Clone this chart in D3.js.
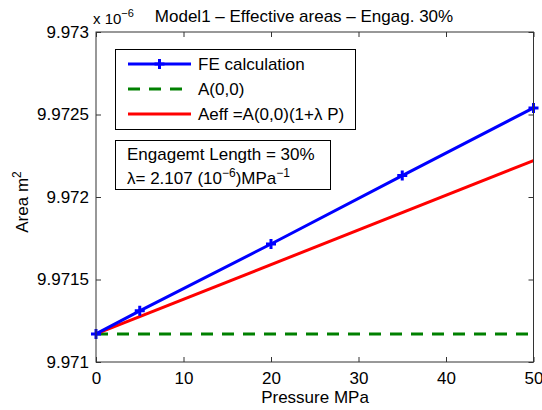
<!DOCTYPE html>
<html>
<head>
<meta charset="utf-8">
<script src="https://cdn.jsdelivr.net/npm/d3@7"></script>
<style>
	body { margin: 0; background: #fff; }
	text { font-family: "Liberation Sans", Arial, sans-serif; fill: #000; }
</style>
</head>
<body>
<svg id="chart"></svg>
<script>
// pressure (MPa) and areas (x 10^-6 m^2)
var pressure = [0, 5, 20, 35, 50];
var feArea = [9.97117, 9.97131, 9.971715, 9.97213, 9.97254];
var baseArea = 9.97117;
var lambda = 2.107e-6;
var xTicks = [0, 10, 20, 30, 40, 50];
var yTicks = [9.971, 9.9715, 9.972, 9.9725, 9.973];
var yTickLabels = ["9.971", "9.9715", "9.972", "9.9725", "9.973"];

var pageWidth = 542;
var pageHeight = 410;
// note: "top" is reserved on window, so use prefixed names
var axLeft = 96, axRight = 533.5, axTop = 32, axBottom = 362;
var fontSize = 17;

var svg = d3.select("#chart")
	.attr("width", pageWidth)
	.attr("height", pageHeight);

var xScale = d3.scaleLinear().domain([0, 50]).range([axLeft, axRight]);
var yScale = d3.scaleLinear().domain([9.971, 9.973]).range([axBottom, axTop]);

var plot = svg.append("g");

// dashed A(0,0)
plot.append("line")
	.attr("x1", xScale(0)).attr("x2", xScale(50))
	.attr("y1", yScale(baseArea)).attr("y2", yScale(baseArea))
	.attr("stroke", "#008000")
	.attr("stroke-width", 3)
	.attr("stroke-dasharray", "12,9");

// Aeff line
var aeff = [0, 50].map(function(p){ return [p, baseArea * (1 + lambda * p)] });
plot.append("path")
	.datum(aeff)
	.attr("d", d3.line().x(function(d){ return xScale(d[0]) }).y(function(d){ return yScale(d[1]) }))
	.attr("fill", "none")
	.attr("stroke", "#ff0000")
	.attr("stroke-width", 3);

// FE calculation
var feData = pressure.map(function(p, i){ return [p, feArea[i]] });
plot.append("path")
	.datum(feData)
	.attr("d", d3.line().x(function(d){ return xScale(d[0]) }).y(function(d){ return yScale(d[1]) }))
	.attr("fill", "none")
	.attr("stroke", "#0000ff")
	.attr("stroke-width", 3);

plot.selectAll(".plus")
	.data(feData)
	.enter().append("path")
	.attr("class", "plus")
	.attr("d", function(d){
		var x = xScale(d[0]), y = yScale(d[1]);
		return "M" + (x - 5) + "," + y + "H" + (x + 5) + "M" + x + "," + (y - 5) + "V" + (y + 5);
	})
	.attr("stroke", "#0000ff")
	.attr("stroke-width", 3);

// axes box
svg.append("rect")
	.attr("x", axLeft).attr("y", axTop)
	.attr("width", axRight - axLeft).attr("height", axBottom - axTop)
	.attr("fill", "none")
	.attr("stroke", "#333")
	.attr("stroke-width", 1);

var tickLen = 5;
svg.append("g").attr("transform", "translate(0," + axBottom + ")")
	.call(d3.axisBottom(xScale).tickValues(xTicks).tickSizeInner(-tickLen).tickSizeOuter(0).tickPadding(10));
svg.append("g").attr("transform", "translate(0," + axTop + ")")
	.call(d3.axisTop(xScale).tickValues(xTicks).tickSizeInner(-tickLen).tickSizeOuter(0).tickFormat(""));
svg.append("g").attr("transform", "translate(" + axLeft + ",0)")
	.call(d3.axisLeft(yScale).tickValues(yTicks).tickSizeInner(-tickLen).tickSizeOuter(0).tickPadding(7)
		.tickFormat(function(d, i){ return yTickLabels[i] }));
svg.append("g").attr("transform", "translate(" + axRight + ",0)")
	.call(d3.axisRight(yScale).tickValues(yTicks).tickSizeInner(-tickLen).tickSizeOuter(0).tickFormat(""));

svg.selectAll(".domain").remove();
svg.selectAll(".tick line").attr("stroke", "#333");
svg.selectAll(".tick text")
	.style("font-family", "'Liberation Sans', Arial, sans-serif")
	.style("font-size", fontSize + "px")
	.attr("fill", "#000");

// title and labels
svg.append("text")
	.attr("x", 304).attr("y", 22)
	.attr("text-anchor", "middle")
	.style("font-size", fontSize + "px")
	.text("Model1 \u2013 Effective areas \u2013 Engag. 30%");

var expo = svg.append("text")
	.attr("x", 93).attr("y", 24)
	.style("font-size", "15px");
expo.append("tspan").text("x 10");
expo.append("tspan").attr("dy", -7).style("font-size", "11px").text("\u22126");

svg.append("text")
	.attr("x", 315).attr("y", 403)
	.attr("text-anchor", "middle")
	.style("font-size", fontSize + "px")
	.text("Pressure MPa");

var ylab = svg.append("text")
	.attr("transform", "translate(28,202) rotate(-90)")
	.attr("text-anchor", "middle")
	.style("font-size", fontSize + "px");
ylab.append("tspan").text("Area m");
ylab.append("tspan").attr("dy", -7).style("font-size", "12px").text("2");

// legend
var legend = svg.append("g");
legend.append("rect")
	.attr("x", 115.5).attr("y", 49.5).attr("width", 240).attr("height", 80)
	.attr("fill", "#fff").attr("stroke", "#000").attr("stroke-width", 1);

var legendItems = [
	{ label: "FE calculation", color: "#0000ff", dash: null, marker: true },
	{ label: "A(0,0)", color: "#008000", dash: "12,9", marker: false },
	{ label: "Aeff =A(0,0)(1+\u03bb P)", color: "#ff0000", dash: null, marker: false }
];
legendItems.forEach(function(d, i){
	var y = 64 + i * 25;
	legend.append("line")
		.attr("x1", 128).attr("x2", 191).attr("y1", y).attr("y2", y)
		.attr("stroke", d.color).attr("stroke-width", 3)
		.attr("stroke-dasharray", d.dash);
	if (d.marker) {
		legend.append("path")
			.attr("d", "M" + 154.5 + "," + y + "H" + 164.5 + "M" + 159.5 + "," + (y - 5) + "V" + (y + 5))
			.attr("stroke", d.color).attr("stroke-width", 3);
	}
	legend.append("text")
		.attr("x", 198).attr("y", y + 6)
		.style("font-size", fontSize + "px")
		.text(d.label);
});

// annotation box
var note = svg.append("g");
note.append("rect")
	.attr("x", 115.5).attr("y", 140.5).attr("width", 215).attr("height", 49)
	.attr("fill", "#fff").attr("stroke", "#000").attr("stroke-width", 1);
note.append("text")
	.attr("x", 127).attr("y", 160)
	.style("font-size", fontSize + "px")
	.text("Engagemt Length = 30%");
var lam = note.append("text")
	.attr("x", 127).attr("y", 184)
	.style("font-size", fontSize + "px");
lam.append("tspan").text("\u03bb= 2.107 (10");
lam.append("tspan").attr("dy", -7).style("font-size", "12px").text("\u22126");
lam.append("tspan").attr("dy", 7).text(")MPa");
lam.append("tspan").attr("dy", -7).style("font-size", "12px").text("\u22121");
</script>
</body>
</html>
